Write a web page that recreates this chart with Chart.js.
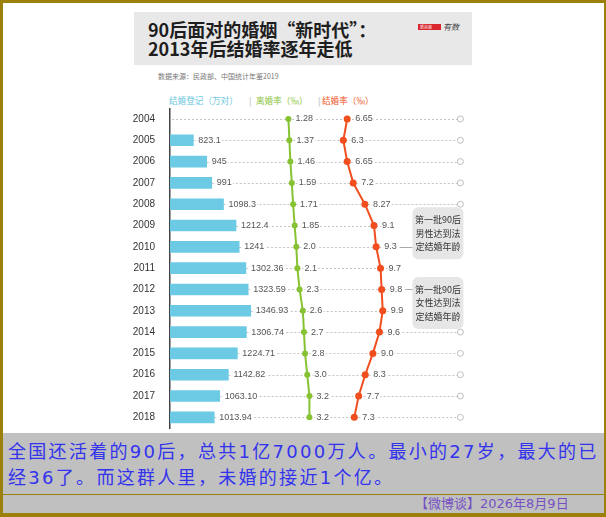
<!DOCTYPE html>
<html>
<head>
<meta charset="utf-8">
<script src="https://cdn.jsdelivr.net/npm/chart.js@4/dist/chart.umd.min.js"></script>
<style>
  body { margin: 0; }
  #page { position: relative; width: 606px; height: 517px; background: #9c800c; overflow: hidden;
          font-family: "Noto Sans CJK SC", sans-serif; }
  .abs { position: absolute; white-space: nowrap; }
  #card { left: 3px; top: 3px; width: 601px; height: 430px; background: #fff; }
  #titlebox { left: 134px; top: 12px; width: 338px; height: 53px; background: #e8e8e8; }
  #title { left: 148px; top: 20px; font-size: 18px; font-weight: bold; line-height: 19.3px; color: #1e1e1e; }
  #logo { left: 418px; top: 24px; font-size: 4px; line-height: 6px; }
  #logo .red { display: inline-block; background: #d9272e; color: #fff; padding: 0 2px; width: 19px; }
  #logo .ys { font-size: 8px; font-style: italic; color: #444; vertical-align: -1px; margin-left: 2px; }
  #source { left: 158px; top: 71px; font-size: 7px; line-height: 10px; color: #777; }
  .legend { top: 94px; font-size: 8.6px; line-height: 12px; }
  #caption { left: 3px; top: 433px; width: 601px; height: 61px; background: #c0c0c0; }
  #captext { left: 8px; top: 439px; font-family: "DejaVu Sans", "Noto Sans CJK SC", sans-serif;
             font-size: 18px; letter-spacing: 2.3px; line-height: 26px; color: #3333ee; }
  #divider { left: 3px; top: 494px; width: 601px; height: 1px; background: #9c800c; }
  #footer { left: 3px; top: 495px; width: 601px; height: 18px; background: #c0c0c0; }
  #foottext { left: 415px; top: 495px; font-family: "DejaVu Sans", "Noto Sans CJK SC", sans-serif;
              font-size: 13px; line-height: 17px; color: #7650c4; }
  #c { position: absolute; left: 130px; top: 100px; width: 346px; height: 333px; }
</style>
</head>
<body>
<div id="page">
  <div class="abs" id="card"></div>
  <div class="abs" id="titlebox"></div>
  <div class="abs" id="title">90后面对的婚姻“新时代”：<br>2013年后结婚率逐年走低</div>
  <div class="abs" id="logo"><span class="red">新京报</span><span class="ys">有数</span></div>
  <div class="abs" id="source">数据来源：民政部、中国统计年鉴2019</div>
  <div class="abs legend" style="left:169px;color:#6cc8e0">结婚登记（万对）</div>
  <div class="abs legend" style="left:249px;color:#aaa">|</div>
  <div class="abs legend" style="left:256px;color:#8dc63f">离婚率（‰）</div>
  <div class="abs legend" style="left:318px;color:#aaa">|</div>
  <div class="abs legend" style="left:322px;color:#f0582a">结婚率（‰）</div>
  <canvas id="c" width="346" height="333"></canvas>
  <div class="abs" id="caption"></div>
  <div class="abs" id="captext">全国还活着的90后，总共1亿7000万人。最小的27岁，最大的已<br>经36了。而这群人里，未婚的接近1个亿。</div>
  <div class="abs" id="divider"></div>
  <div class="abs" id="footer"></div>
  <div class="abs" id="foottext">【微博谈】2026年8月9日</div>
</div>
<script>
const years = ['2004', '2005', '2006', '2007', '2008', '2009', '2010', '2011',
	'2012', '2013', '2014', '2015', '2016', '2017', '2018'];

// 结婚登记（万对）
const marriageRegs = [null, 823.1, 945, 991, 1098.3, 1212.4, 1241, 1302.36,
	1323.59, 1346.93, 1306.74, 1224.71, 1142.82, 1063.10, 1013.94];
const marriageRegLabels = ['', '823.1', '945', '991', '1098.3', '1212.4', '1241', '1302.36',
	'1323.59', '1346.93', '1306.74', '1224.71', '1142.82', '1063.10', '1013.94'];

// 离婚率（‰）
const divorceRate = [1.28, 1.37, 1.46, 1.59, 1.71, 1.85, 2.0, 2.1, 2.3, 2.6, 2.7, 2.8, 3.0, 3.2, 3.2];
const divorceRateLabels = ['1.28', '1.37', '1.46', '1.59', '1.71', '1.85', '2.0', '2.1',
	'2.3', '2.6', '2.7', '2.8', '3.0', '3.2', '3.2'];

// 结婚率（‰）
const marriageRate = [6.65, 6.3, 6.65, 7.2, 8.27, 9.1, 9.3, 9.7, 9.8, 9.9, 9.6, 9.0, 8.3, 7.7, 7.3];
const marriageRateLabels = ['6.65', '6.3', '6.65', '7.2', '8.27', '9.1', '9.3', '9.7',
	'9.8', '9.9', '9.6', '9.0', '8.3', '7.7', '7.3'];

// notes on the right: rows they cover, and which row is tied to which text line
const notes = [
	{ lines: ['第一批90后', '男性达到法', '定结婚年龄'], rows: ['2009', '2010', '2011'], link: '2010', linkLine: 2 },
	{ lines: ['第一批90后', '女性达到法', '定结婚年龄'], rows: ['2012', '2013'], link: '2012', linkLine: 0 },
];

// the small rings at the end of each row sit here on the rate axis
const ringValue = 17;
const notedRows = notes.flatMap(n => n.rows);
const rings = years.map(y => (notedRows.includes(y) ? null : ringValue));

const labelFont = '9px "Liberation Sans", Arial, sans-serif';

function rateLabelEnd(ctx, xr, i) {
	return xr.getPixelForValue(marriageRate[i]) + 8 + ctx.measureText(marriageRateLabels[i]).width;
}

function putLabel(ctx, text, x, y) {
	const w = ctx.measureText(text).width;
	ctx.fillStyle = '#fff';
	ctx.fillRect(x - 1, y - 5, w + 2, 10);
	ctx.fillStyle = '#555';
	ctx.fillText(text, x, y);
}

const rowDecor = {
	id: 'rowDecor',
	beforeDatasetsDraw(chart) {
		const { ctx, chartArea, scales } = chart;
		const xb = scales.xBar, xr = scales.xRate, ys = scales.y;
		ctx.save();
		ctx.font = labelFont;
		ctx.strokeStyle = '#c4c4c4';
		ctx.lineWidth = 1;
		ctx.setLineDash([2, 2]);
		years.forEach((yr, i) => {
			const py = Math.round(ys.getPixelForValue(i)) + 0.5;
			const x0 = marriageRegs[i] == null ? chartArea.left + 2 : xb.getPixelForValue(marriageRegs[i]);
			const x1 = rings[i] != null ? xr.getPixelForValue(rings[i]) - 3 : rateLabelEnd(ctx, xr, i) + 1;
			ctx.beginPath();
			ctx.moveTo(x0, py);
			ctx.lineTo(x1, py);
			ctx.stroke();
		});
		ctx.restore();
	},
	afterDatasetsDraw(chart) {
		const { ctx, scales } = chart;
		const xb = scales.xBar, xr = scales.xRate, ys = scales.y;
		ctx.save();
		ctx.font = labelFont;
		ctx.textBaseline = 'middle';
		ctx.textAlign = 'left';
		years.forEach((yr, i) => {
			const py = ys.getPixelForValue(i);
			if (marriageRegs[i] != null) putLabel(ctx, marriageRegLabels[i], xb.getPixelForValue(marriageRegs[i]) + 5, py);
			putLabel(ctx, divorceRateLabels[i], xr.getPixelForValue(divorceRate[i]) + 7, py);
			putLabel(ctx, marriageRateLabels[i], xr.getPixelForValue(marriageRate[i]) + 8, py);
		});

		// note boxes
		const ringX = xr.getPixelForValue(ringValue);
		const step = 13.5;
		notes.forEach(n => {
			const li = years.indexOf(n.link);
			const linkY = ys.getPixelForValue(li);
			const cy = linkY - (n.linkLine - 1) * step;
			const left = ringX - 48, w = 51, h = 52;
			ctx.fillStyle = '#e6e6e6';
			ctx.beginPath();
			ctx.roundRect(left, cy - h / 2, w, h, 6);
			ctx.fill();
			ctx.font = '9px "Noto Sans CJK SC", sans-serif';
			ctx.fillStyle = '#333';
			ctx.textAlign = 'center';
			n.lines.forEach((t, k) => ctx.fillText(t, left + w / 2, cy + (k - 1) * step));
			ctx.textAlign = 'left';
			ctx.font = labelFont;
			// connector from the row label to the box
			const ly = Math.round(linkY) + 0.5;
			ctx.strokeStyle = '#aaa';
			ctx.lineWidth = 1;
			ctx.beginPath();
			ctx.moveTo(rateLabelEnd(ctx, xr, li) + 3, ly);
			ctx.lineTo(left, ly);
			ctx.stroke();
		});
		ctx.restore();
	},
};

new Chart(document.getElementById('c'), {
	type: 'bar',
	data: {
		labels: years,
		datasets: [
			{
				label: '结婚登记（万对）',
				data: marriageRegs,
				xAxisID: 'xBar',
				yAxisID: 'y',
				backgroundColor: '#6dcae4',
				barThickness: 11,
				order: 3,
			},
			{
				type: 'line',
				label: '离婚率（‰）',
				data: divorceRate,
				xAxisID: 'xRate',
				yAxisID: 'y',
				borderColor: '#86c232',
				backgroundColor: '#86c232',
				borderWidth: 2,
				pointRadius: 3,
				pointBorderWidth: 0,
				order: 2,
			},
			{
				type: 'line',
				label: '结婚率（‰）',
				data: marriageRate,
				xAxisID: 'xRate',
				yAxisID: 'y',
				borderColor: '#f04e1e',
				backgroundColor: '#f04e1e',
				borderWidth: 2,
				pointRadius: 3.5,
				pointBorderWidth: 0,
				order: 1,
			},
			{
				type: 'line',
				label: 'rings',
				data: rings,
				xAxisID: 'xRate',
				yAxisID: 'y',
				showLine: false,
				pointRadius: 3,
				pointBackgroundColor: '#fff',
				pointBorderColor: '#bdbdbd',
				pointBorderWidth: 1,
				order: 0,
			},
		],
	},
	options: {
		indexAxis: 'y',
		responsive: false,
		animation: false,
		layout: { padding: { left: 0, right: 10, top: 8.3, bottom: 4 } },
		plugins: { legend: { display: false }, tooltip: { enabled: false } },
		scales: {
			y: {
				type: 'category',
				offset: true,
				grid: { display: false },
				border: { display: true, color: '#444', width: 1.5 },
				ticks: { color: '#333', padding: 7, font: { size: 10, family: '"Liberation Sans", Arial, sans-serif' } },
				afterFit(scale) {
					scale.width = 40;
					scale.paddingTop = 0;
					scale.paddingBottom = 0;
				},
			},
			xBar: { type: 'linear', display: false, min: 610, max: 3311 },
			xRate: { type: 'linear', display: false, min: -9.543, max: 17.51 },
		},
	},
	plugins: [rowDecor],
});
</script>
</body>
</html>
